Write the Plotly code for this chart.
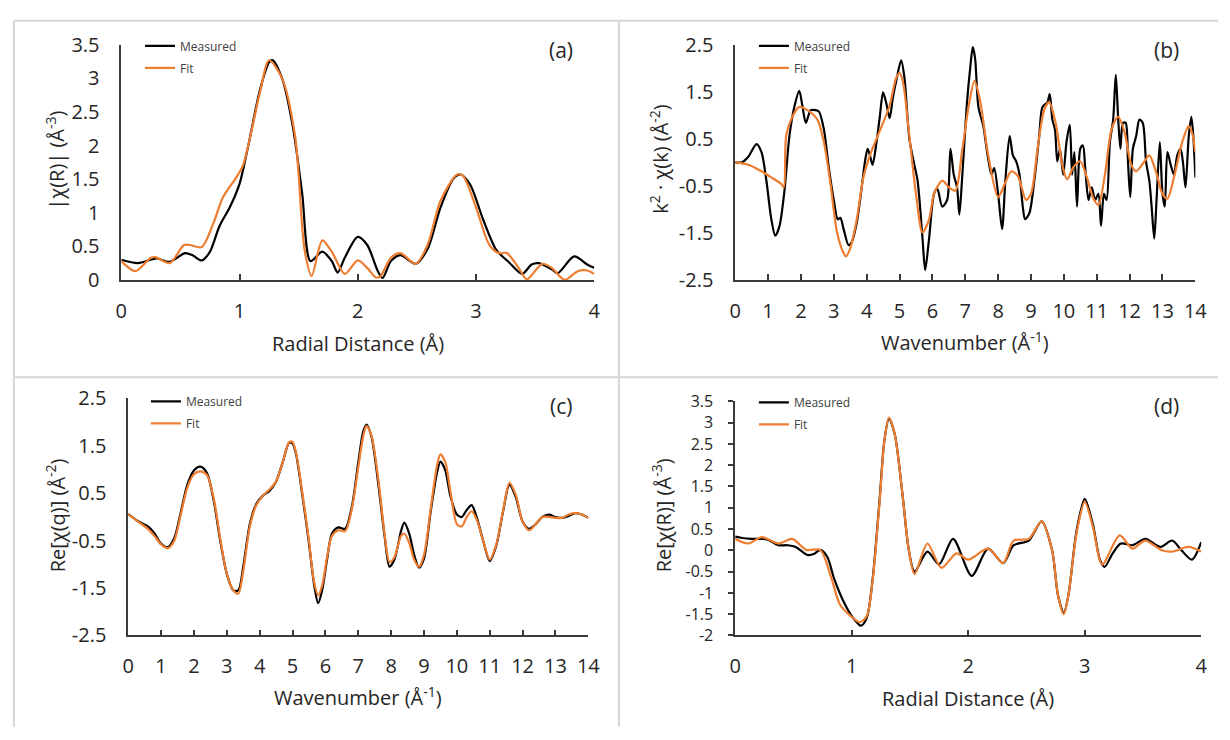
import plotly.graph_objects as go

# ---------------- data ----------------
# (a) |chi(R)|
a_meas_r = [0, 0.14, 0.25, 0.30, 0.41, 0.54, 0.60, 0.68, 0.75, 0.83, 0.92, 1.0, 1.08, 1.17, 1.25, 1.28, 1.36, 1.45, 1.53, 1.60,
            1.70, 1.78, 1.83, 1.89, 2.0, 2.08, 2.17, 2.21, 2.28, 2.36, 2.49, 2.59, 2.70, 2.81, 2.87, 2.95, 3.06, 3.17, 3.28,
            3.39, 3.47, 3.53, 3.64, 3.69, 3.83, 3.94, 4.0]
a_meas = [0.30, 0.25, 0.30, 0.32, 0.27, 0.40, 0.37, 0.29, 0.42, 0.80, 1.09, 1.43, 2.05, 2.81, 3.24, 3.27, 3.0, 2.29, 1.28, 0.28,
          0.42, 0.28, 0.11, 0.33, 0.64, 0.52, 0.13, 0.03, 0.28, 0.37, 0.24, 0.46, 1.08, 1.51, 1.57, 1.42, 0.90, 0.45, 0.26,
          0.09, 0.23, 0.25, 0.16, 0.10, 0.35, 0.23, 0.18]
a_fit_r = [0, 0.12, 0.25, 0.29, 0.41, 0.53, 0.58, 0.68, 0.78, 0.86, 0.97, 1.03, 1.17, 1.25, 1.36, 1.47, 1.55, 1.61, 1.70, 1.78,
           1.89, 2.0, 2.08, 2.15, 2.19, 2.28, 2.36, 2.49, 2.59, 2.70, 2.84, 2.89, 3.0, 3.11, 3.19, 3.26, 3.36, 3.43, 3.56,
           3.64, 3.75, 3.86, 3.94, 4.0]
a_fit = [0.28, 0.13, 0.33, 0.34, 0.25, 0.52, 0.52, 0.49, 0.85, 1.23, 1.52, 1.71, 2.77, 3.27, 3.0, 2.14, 0.45, 0.06, 0.59, 0.42,
         0.09, 0.29, 0.18, 0.04, 0.05, 0.33, 0.40, 0.24, 0.52, 1.18, 1.57, 1.55, 1.08, 0.53, 0.40, 0.40, 0.18, 0.01, 0.24,
         0.18, 0.0, 0.13, 0.14, 0.09]

# (b) k^2 chi(k)
b_meas_k = [0, 0.2, 0.4, 0.65, 0.8, 0.95, 1.1, 1.22, 1.35, 1.5, 1.65, 1.8, 1.95, 2.05, 2.15, 2.3, 2.45, 2.55, 2.7, 2.85, 3.0,
            3.12, 3.2, 3.3, 3.45, 3.55, 3.7, 3.85, 3.95, 4.03, 4.1, 4.18, 4.3, 4.4, 4.5, 4.6, 4.7, 4.8, 4.9, 5.05, 5.15,
            5.3, 5.45, 5.55, 5.7, 5.78, 5.9, 6.05, 6.15, 6.3, 6.45, 6.55, 6.65, 6.75, 6.82, 6.9, 7.05, 7.15, 7.23, 7.3,
            7.4, 7.55, 7.68, 7.8, 7.88, 8.0, 8.12, 8.22, 8.35, 8.45, 8.55, 8.65, 8.75, 8.82, 8.95, 9.1, 9.25, 9.35, 9.5,
            9.57, 9.65, 9.73, 9.8, 9.88, 9.98, 10.08, 10.18, 10.25, 10.32, 10.4, 10.5, 10.58, 10.65, 10.75, 10.85, 10.95,
            11.05, 11.13, 11.22, 11.3, 11.4, 11.5, 11.58, 11.65, 11.72, 11.8, 11.88, 11.95, 12.02, 12.1, 12.2, 12.3, 12.4,
            12.5, 12.6, 12.67, 12.75, 12.82, 12.92, 13.0, 13.07, 13.15, 13.25, 13.35, 13.45, 13.55, 13.62, 13.7, 13.8,
            13.88, 13.95, 14.0]
b_meas = [0.0, 0.0, 0.12, 0.39, 0.22, -0.39, -1.21, -1.56, -1.35, -0.60, 0.56, 1.18, 1.52, 1.18, 0.84, 1.11, 1.11, 1.08,
          0.70, -0.12, -0.80, -1.21, -1.18, -1.42, -1.76, -1.69, -1.28, -0.53, 0.02, 0.29, 0.15, -0.05, 0.43, 0.97, 1.49,
          1.25, 0.94, 1.39, 1.73, 2.17, 1.80, 0.50, -0.05, -0.39, -1.62, -2.29, -1.62, -0.67, -0.56, -0.94, -0.80, 0.29,
          -0.26, -0.53, -1.11, -0.39, 1.25, 2.0, 2.45, 2.21, 1.18, 0.77, 0.15, -0.26, -0.12, -0.67, -1.42, -0.39, 0.56,
          0.15, 0.02, -0.26, -0.94, -1.21, -1.08, -0.39, 0.56, 1.18, 1.28, 1.45, 0.91, 0.70, 0.02, 0.29, -0.26, 0.43,
          0.80, -0.26, 0.22, -0.94, 0.29, 0.36, -0.12, -0.80, -0.53, -0.80, -0.67, -1.35, -0.67, -0.80, 0.43, 0.91,
          1.86, 0.97, 0.29, 0.84, 0.84, 0.02, -0.74, 0.29, 0.56, 0.91, 0.84, 0.02, -0.39, -0.94, -1.62, -0.80, 0.43,
          -0.67, -0.94, 0.22, -0.05, -0.26, 0.15, 0.29, 0.02, -0.53, 0.56, 0.97, 0.43, -0.32]
b_fit_k = [0, 0.4, 0.8, 1.1, 1.4, 1.48, 1.55, 1.7, 1.95, 2.2, 2.5, 2.7, 2.9, 3.1, 3.3, 3.37, 3.5, 3.7, 3.9, 4.1, 4.3, 4.5,
           4.7, 4.9, 5.0, 5.1, 5.3, 5.5, 5.7, 5.9, 6.05, 6.3, 6.5, 6.7, 6.9, 7.1, 7.28, 7.45, 7.7, 8.0, 8.2, 8.4, 8.6,
           8.85, 9.0, 9.2, 9.4, 9.55, 9.75, 9.95, 10.1, 10.3, 10.5, 10.7, 10.9, 11.05, 11.25, 11.45, 11.65, 11.85, 12.05,
           12.2, 12.45, 12.6, 12.8, 13.0, 13.15, 13.35, 13.6, 13.8, 13.9, 14.0]
b_fit = [0.0, -0.05, -0.19, -0.32, -0.46, -0.53, 0.56, 0.91, 1.18, 1.11, 0.91, 0.43, -0.46, -1.49, -1.93, -2.0, -1.83,
         -1.21, -0.32, 0.15, 0.50, 0.84, 1.21, 1.80, 1.90, 1.73, 0.56, -0.67, -1.49, -1.21, -0.67, -0.39, -0.53, -0.60,
         0.22, 1.18, 1.73, 1.32, 0.15, -0.74, -0.46, -0.19, -0.29, -0.80, -0.67, 0.29, 1.11, 1.28, 0.84, -0.05, -0.36,
         -0.09, 0.02, -0.32, -0.77, -0.91, -0.26, 0.70, 0.97, 0.63, -0.05, -0.19, 0.02, 0.15, -0.19, -0.67, -0.77,
         -0.32, 0.43, 0.77, 0.63, 0.22]

# (c) Re[chi(q)]
c_k = [0, 0.3, 0.6, 0.8, 1.0, 1.2, 1.4, 1.6, 1.8, 2.0, 2.2, 2.4, 2.6, 2.8, 3.0, 3.2, 3.35, 3.5, 3.7, 3.9, 4.1, 4.3, 4.5,
       4.7, 4.9, 5.0, 5.1, 5.3, 5.5, 5.65, 5.78, 5.9, 6.05, 6.2, 6.4, 6.6, 6.8, 7.0, 7.15, 7.25, 7.4, 7.6, 7.8, 7.95,
       8.1, 8.3, 8.4, 8.55, 8.7, 8.85, 9.0, 9.2, 9.4, 9.5, 9.65, 9.8, 10.0, 10.15, 10.3, 10.45, 10.6, 10.8, 11.0, 11.2,
       11.4, 11.6, 11.8, 12.0, 12.2, 12.4, 12.6, 12.8, 13.0, 13.2, 13.4, 13.6, 13.8, 14.0]
c_meas = [0.06, -0.09, -0.20, -0.35, -0.56, -0.64, -0.45, 0.10, 0.68, 0.98, 1.06, 0.92, 0.35, -0.50, -1.20, -1.55, -1.55,
          -1.05, -0.15, 0.28, 0.45, 0.55, 0.75, 1.15, 1.57, 1.55, 1.35, 0.45, -0.55, -1.40, -1.82, -1.55, -0.90, -0.35,
          -0.22, -0.25, 0.20, 1.15, 1.80, 1.95, 1.70, 0.75, -0.40, -1.05, -0.90, -0.30, -0.12, -0.35, -0.80, -1.07,
          -0.88, 0.10, 0.95, 1.17, 0.98, 0.45, 0.05, 0.00, 0.15, 0.25, 0.00, -0.50, -0.93, -0.60, 0.10, 0.68, 0.40,
          -0.10, -0.25, -0.15, 0.00, 0.05, 0.00, -0.02, 0.02, 0.08, 0.05, -0.02]
c_fit = [0.06, -0.10, -0.25, -0.40, -0.58, -0.66, -0.50, 0.05, 0.62, 0.90, 0.96, 0.88, 0.40, -0.45, -1.20, -1.55, -1.62,
         -1.15, -0.20, 0.25, 0.45, 0.58, 0.75, 1.15, 1.58, 1.58, 1.38, 0.50, -0.50, -1.35, -1.65, -1.45, -0.85, -0.40,
         -0.28, -0.30, 0.15, 1.05, 1.70, 1.92, 1.72, 0.85, -0.35, -0.95, -0.85, -0.40, -0.35, -0.55, -0.90, -1.05,
         -0.80, 0.15, 1.10, 1.32, 1.15, 0.55, -0.15, -0.20, 0.00, 0.12, -0.05, -0.50, -0.90, -0.58, 0.12, 0.72, 0.45,
         -0.10, -0.28, -0.15, 0.00, 0.00, -0.02, -0.02, 0.05, 0.08, 0.05, -0.02]

# (d) Re[chi(R)]
d_meas_r = [0, 0.06, 0.14, 0.23, 0.28, 0.37, 0.45, 0.52, 0.62, 0.68, 0.73, 0.79, 0.85, 0.93, 1.01, 1.08, 1.13, 1.18, 1.24,
            1.28, 1.32, 1.37, 1.44, 1.49, 1.54, 1.65, 1.75, 1.87, 2.03, 2.17, 2.30, 2.39, 2.52, 2.63, 2.72, 2.77, 2.82,
            2.86, 2.93, 3.00, 3.07, 3.13, 3.17, 3.24, 3.31, 3.41, 3.52, 3.65, 3.75, 3.83, 3.92, 4.0]
d_meas = [0.32, 0.29, 0.27, 0.27, 0.25, 0.12, 0.12, 0.08, -0.11, -0.08, 0.01, -0.15, -0.67, -1.20, -1.58, -1.77, -1.58,
          -0.67, 1.21, 2.57, 3.10, 2.72, 1.21, 0.01, -0.50, -0.03, -0.33, 0.27, -0.60, 0.04, -0.30, 0.12, 0.23, 0.68,
          0.0, -1.05, -1.47, -1.05, 0.46, 1.21, 0.61, -0.22, -0.39, -0.07, 0.16, 0.12, 0.27, 0.08, 0.23, 0.0, -0.22, 0.19]
d_fit_r = [0, 0.11, 0.23, 0.37, 0.49, 0.61, 0.73, 0.82, 0.90, 0.99, 1.07, 1.13, 1.18, 1.24, 1.28, 1.32, 1.37, 1.44, 1.49,
           1.54, 1.65, 1.77, 1.90, 2.0, 2.17, 2.30, 2.39, 2.52, 2.63, 2.72, 2.77, 2.82, 2.86, 2.93, 3.0, 3.07, 3.15, 3.30,
           3.41, 3.52, 3.66, 3.75, 3.89, 4.0]
d_fit = [0.27, 0.16, 0.31, 0.16, 0.27, 0.01, 0.01, -0.60, -1.28, -1.54, -1.69, -1.54, -0.70, 1.15, 2.55, 3.12, 2.72, 1.21,
         0.01, -0.56, 0.16, -0.41, -0.07, -0.22, 0.04, -0.30, 0.23, 0.27, 0.68, 0.0, -1.05, -1.50, -1.05, 0.40, 1.14,
         0.55, -0.33, 0.35, 0.04, 0.23, 0.0, -0.03, 0.08, -0.03]

# tick labels
r_ticks = [0, 1, 2, 3, 4]
k_ticks = list(range(0, 15))
a_yticks = [0, 0.5, 1, 1.5, 2, 2.5, 3, 3.5]
a_yticklabels = ["0", "0.5", "1", "1.5", "2", "2.5", "3", "3.5"]
bc_yticks = [-2.5, -1.5, -0.5, 0.5, 1.5, 2.5]
bc_yticklabels = ["-2.5", "-1.5", "-0.5", "0.5", "1.5", "2.5"]
d_yticks = [-2, -1.5, -1, -0.5, 0, 0.5, 1, 1.5, 2, 2.5, 3, 3.5]
d_yticklabels = ["-2", "-1.5", "-1", "-0.5", "0", "0.5", "1", "1.5", "2", "2.5", "3", "3.5"]

# ---------------- figure ----------------
W, H = 1230, 740
FONT = "Open Sans"
BLACK = "#000000"
ORANGE = "#ED7D31"
AX = "#3a3a3a"
TXT = "#262626"


def px(x):
    return x / W


def py(y):
    return 1 - y / H


fig = go.Figure()

panels = [
    ("a", "x", "y", "legend", a_meas_r, a_meas, a_fit_r, a_fit),
    ("b", "x2", "y2", "legend2", b_meas_k, b_meas, b_fit_k, b_fit),
    ("c", "x3", "y3", "legend3", c_k, c_meas, c_k, c_fit),
    ("d", "x4", "y4", "legend4", d_meas_r, d_meas, d_fit_r, d_fit),
]
for name, xa, ya, lg, xm, ym, xf, yf in panels:
    fig.add_trace(go.Scatter(x=xm, y=ym, mode="lines", name="Measured", xaxis=xa, yaxis=ya, legend=lg,
                             legendgroup=name + "m",
                             line=dict(color=BLACK, width=2.2, shape="spline", smoothing=0.8)))
    fig.add_trace(go.Scatter(x=xf, y=yf, mode="lines", name="Fit", xaxis=xa, yaxis=ya, legend=lg,
                             legendgroup=name + "f",
                             line=dict(color=ORANGE, width=2.2, shape="spline", smoothing=0.8)))

tickfont = dict(family=FONT, size=20, color=TXT)


def xaxis(dom, anchor, rng, tv):
    return dict(domain=dom, anchor=anchor, range=rng, tickvals=tv, ticktext=[str(t) for t in tv],
                showgrid=False, zeroline=False, showline=True, linecolor=AX, linewidth=1.5,
                ticks="inside", ticklen=6, tickcolor=AX, tickwidth=1.5, tickfont=tickfont,
                ticklabelstandoff=12, fixedrange=True)


def yaxis(dom, anchor, rng, tv, tt, ticks="", size=20):
    return dict(domain=dom, anchor=anchor, range=rng, tickvals=tv, ticktext=tt,
                showgrid=False, zeroline=False, showline=True, linecolor=AX, linewidth=1.5,
                ticks=ticks, ticklen=5, tickcolor=AX, tickwidth=1.5,
                tickfont=dict(family=FONT, size=size, color=TXT),
                ticklabelstandoff=16 if not ticks else 12, fixedrange=True)


fig.update_layout(
    width=W, height=H, margin=dict(l=0, r=0, t=0, b=0), autosize=False,
    paper_bgcolor="white", plot_bgcolor="white",
    font=dict(family=FONT, color=TXT),
    xaxis=xaxis([px(117), px(597)], "y", [0, 4], r_ticks),
    yaxis=yaxis([py(276), py(32)], "x", [0, 3.5], a_yticks, a_yticklabels),
    xaxis2=xaxis([px(740), px(1207)], "y2", [0, 14], k_ticks),
    yaxis2=yaxis([py(276), py(32)], "x2", [-2.5, 2.5], bc_yticks, bc_yticklabels),
    xaxis3=xaxis([px(124), px(591)], "y3", [0, 14], k_ticks),
    yaxis3=yaxis([py(645), py(399)], "x3", [-2.5, 2.5], bc_yticks, bc_yticklabels),
    xaxis4=xaxis([px(740), px(1213)], "y4", [0, 4], r_ticks),
    yaxis4=yaxis([py(645), py(402)], "x4", [-2, 3.5], d_yticks, d_yticklabels, ticks="outside", size=16),
)

legend_pos = {"legend": (136, 18), "legend2": (759, 18), "legend3": (142, 387), "legend4": (759, 388)}
for lg, (lx, ly) in legend_pos.items():
    fig.update_layout({lg: dict(x=px(lx), y=py(ly), xanchor="left", yanchor="top", bgcolor="rgba(0,0,0,0)",
                                font=dict(family=FONT, size=12, color="#404040"), traceorder="grouped",
                                tracegroupgap=3, itemwidth=30)})

# panel frames (light gray separators)
frame = dict(color="#d6d6d6", width=2)
for x0, y0, x1, y1 in [(8, 7, 8, 740), (8, 7, 1230, 7), (622, 7, 622, 740), (8, 377, 1230, 377)]:
    fig.add_shape(type="line", xref="paper", yref="paper", x0=px(x0), y0=py(y0), x1=px(x1), y1=py(y1), line=frame)

# panel labels
for txt, x, y in [("(a)", 563, 37), ("(b)", 1178, 37), ("(c)", 563, 407), ("(d)", 1178, 407)]:
    fig.add_annotation(text=txt, xref="paper", yref="paper", x=px(x), y=py(y), showarrow=False,
                       font=dict(family=FONT, size=21, color=TXT), xanchor="center", yanchor="middle")

# axis titles
title_font = dict(family=FONT, size=20, color=TXT)
for txt, x, y in [("Radial Distance (Å)", 357, 342), ("Wavenumber (Å<sup>-1</sup>)", 973, 340),
                  ("Wavenumber (Å<sup>-1</sup>)", 357, 708), ("Radial Distance (Å)", 976, 710)]:
    fig.add_annotation(text=txt, xref="paper", yref="paper", x=px(x), y=py(y), showarrow=False,
                       font=title_font, xanchor="center", yanchor="middle")
for txt, x, y in [("|χ(R)| (Å<sup>-3</sup>)", 50, 152), ("k<sup>2</sup> · χ(k) (Å<sup>-2</sup>)", 663, 150),
                  ("Re[χ(q)] (Å<sup>-2</sup>)", 50, 520), ("Re[χ(R)] (Å<sup>-3</sup>)", 665, 520)]:
    fig.add_annotation(text=txt, xref="paper", yref="paper", x=px(x), y=py(y), showarrow=False, textangle=-90,
                       font=title_font, xanchor="center", yanchor="middle")

fig.write_html("out.html")
